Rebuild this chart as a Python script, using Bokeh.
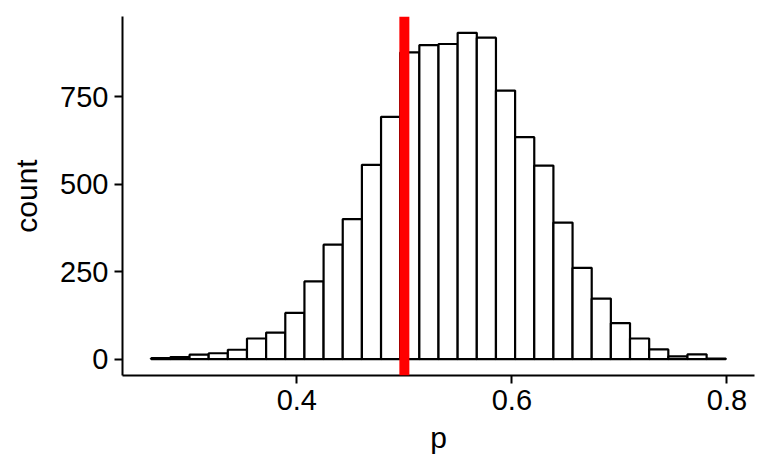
from bokeh.plotting import figure
from bokeh.models import Range1d, FixedTicker, Span
from bokeh.embed import file_html
from bokeh.resources import INLINE
import numpy as np

# ---- data ----
bin_start = 0.2646
bin_width = 0.01781
counts = [3, 6, 13, 17, 27, 59, 76, 132, 222, 327, 400, 555, 692, 876, 897,
          900, 932, 918, 767, 634, 553, 390, 261, 173, 103, 59, 28, 8, 14, 2]
ref_line = 0.5
x_ticks = [0.4, 0.6, 0.8]
y_ticks = [0, 250, 500, 750]
x_label = "p"
y_label = "count"

lefts = bin_start + bin_width * np.arange(len(counts))
rights = lefts + bin_width
lo, hi = lefts[0], rights[-1]
xpad = (hi - lo) * 0.05
ymax = max(counts)
ypad = ymax * 0.05

FONT = "Liberation Sans"

p = figure(width=760, height=466, output_backend="svg", toolbar_location=None,
           x_range=Range1d(lo - xpad, hi + xpad), y_range=Range1d(-ypad, ymax + ypad),
           min_border_left=122, min_border_right=6, min_border_top=16, min_border_bottom=91)
p.frame_width = 632
p.frame_height = 359

p.quad(left=lefts, right=rights, bottom=0, top=counts,
       fill_color="white", line_color="black", line_width=2.2)

p.add_layout(Span(location=ref_line, dimension="height", line_color="red", line_width=10))

p.xgrid.visible = False
p.ygrid.visible = False
p.outline_line_color = None

for ax in (p.xaxis[0], p.yaxis[0]):
    ax.axis_line_width = 2
    ax.axis_line_color = "black"
    ax.major_tick_line_width = 2
    ax.major_tick_line_color = "black"
    ax.major_tick_out = 8
    ax.major_tick_in = 0
    ax.minor_tick_line_color = None
    ax.major_label_text_font = FONT
    ax.major_label_text_font_size = "29px"
    ax.major_label_text_color = "black"
    ax.axis_label_text_font = FONT
    ax.axis_label_text_font_size = "30px"
    ax.axis_label_text_font_style = "normal"
    ax.axis_label_text_color = "black"

p.xaxis.ticker = FixedTicker(ticks=x_ticks)
p.yaxis.ticker = FixedTicker(ticks=y_ticks)
p.xaxis.major_label_overrides = {t: f"{t:.1f}" for t in x_ticks}
p.yaxis.major_label_overrides = {t: str(t) for t in y_ticks}
p.xaxis.axis_label = x_label
p.yaxis.axis_label = y_label
p.xaxis.major_label_standoff = 6
p.yaxis.major_label_standoff = 6
p.xaxis.axis_label_standoff = 8
p.yaxis.axis_label_standoff = 14

open("out.html", "w").write(file_html(p, INLINE))
